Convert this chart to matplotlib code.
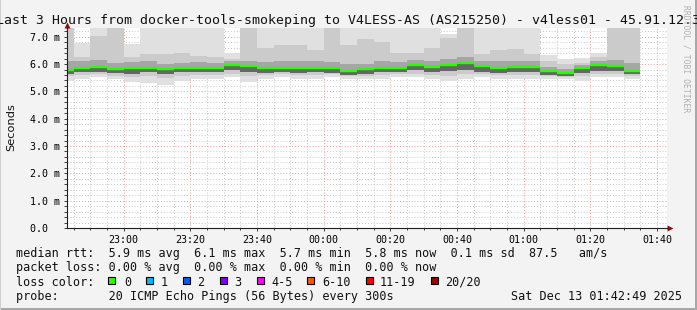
import numpy as np
import pandas as pd
import matplotlib
matplotlib.use('Agg')
import matplotlib.pyplot as plt
import matplotlib.dates as mdates
import matplotlib.ticker as mticker
import matplotlib.transforms as mtransforms
from matplotlib.patches import Rectangle

plt.rcParams['font.family'] = 'DejaVu Sans Mono'

# 5 minute rows, values in ms (axis label says "m" = milli-seconds)
bar_start = pd.date_range('2025-12-12 22:40', periods=35, freq='5min')
median = [5.80, 5.87, 5.90, 5.82, 5.85, 5.87, 5.81, 5.87, 5.87, 5.87, 5.98, 5.93,
          5.86, 5.87, 5.86, 5.87, 5.85, 5.76, 5.81, 5.87, 5.87, 5.97, 5.91, 5.98,
          6.05, 5.92, 5.86, 5.91, 5.91, 5.76, 5.68, 5.84, 5.98, 5.92, 5.76]
smoke_lo = [5.39, 5.45, 5.52, 5.45, 5.33, 5.30, 5.24, 5.39, 5.45, 5.45, 5.52, 5.33,
            5.45, 5.52, 5.45, 5.45, 5.52, 5.45, 5.45, 5.45, 5.52, 5.52, 5.45, 5.39,
            5.45, 5.52, 5.45, 5.45, 5.45, 5.45, 5.45, 5.39, 5.52, 5.52, 5.45]
smoke_hi = [7.60, 6.78, 7.60, 7.60, 6.73, 7.60, 7.60, 7.60, 7.60, 7.60, 6.40, 7.60,
            7.60, 7.60, 7.60, 7.60, 7.60, 7.60, 7.60, 7.60, 7.60, 7.60, 7.60, 7.10,
            7.60, 7.60, 7.60, 7.60, 7.60, 6.34, 6.19, 6.22, 6.39, 7.60, 7.60]
mid_lo = [5.55, 5.60, 5.62, 5.58, 5.52, 5.55, 5.50, 5.58, 5.60, 5.60, 5.64, 5.55,
          5.60, 5.62, 5.60, 5.60, 5.62, 5.55, 5.58, 5.60, 5.62, 5.64, 5.60, 5.58,
          5.62, 5.64, 5.60, 5.60, 5.60, 5.55, 5.52, 5.55, 5.64, 5.64, 5.58]
mid_hi = [7.60, 6.25, 7.04, 7.60, 6.25, 6.37, 6.37, 6.40, 6.30, 6.25, 6.20, 7.60,
          6.60, 6.70, 6.70, 6.50, 7.60, 6.70, 6.93, 6.80, 6.42, 6.42, 6.60, 6.95,
          7.60, 6.37, 6.50, 6.55, 6.37, 6.12, 6.00, 6.03, 6.25, 7.60, 7.60]
dark_lo = [5.64, 5.70, 5.72, 5.66, 5.64, 5.70, 5.64, 5.70, 5.70, 5.70, 5.78, 5.72,
           5.68, 5.70, 5.68, 5.70, 5.68, 5.60, 5.64, 5.70, 5.70, 5.78, 5.72, 5.76,
           5.78, 5.72, 5.68, 5.72, 5.72, 5.60, 5.55, 5.66, 5.76, 5.74, 5.62]
dark_hi = [6.10, 6.12, 6.15, 6.05, 6.08, 6.10, 6.02, 6.05, 6.06, 6.05, 6.12, 6.12,
           6.08, 6.10, 6.10, 6.12, 6.08, 6.00, 6.00, 6.10, 6.08, 6.15, 6.12, 6.20,
           6.25, 6.10, 6.12, 6.12, 6.10, 5.90, 5.82, 5.95, 6.10, 6.15, 6.05]

loss_labels = ['0', '1', '2', '3', '4-5', '6-10', '11-19', '20/20']
loss_colors = ['#26ff00', '#00b8ff', '#0059ff', '#7e00ff', '#ff00ff', '#ff5500', '#ff0000', '#a10000']

title = 'Last 3 Hours from docker-tools-smokeping to V4LESS-AS (AS215250) - v4less01 - 45.91.12.3'
legend_rows = [
    'median rtt:  5.9 ms avg  6.1 ms max  5.7 ms min  5.8 ms now  0.1 ms sd  87.5   am/s',
    'packet loss: 0.00 % avg  0.00 % max  0.00 % min  0.00 % now',
    'loss color:',
    'probe:       20 ICMP Echo Pings (56 Bytes) every 300s',
]
stamp = 'Sat Dec 13 01:42:49 2025'

W, H = 697, 310
fig = plt.figure(figsize=(W / 100, H / 100), dpi=100, facecolor='#f3f3f3')
ax = fig.add_axes([67 / W, (H - 228) / H, 600 / W, 200 / H])
ax.set_facecolor('white')
ax.set_axisbelow(True)

x = mdates.date2num(bar_start.to_pydatetime())
step = 5 / 1440
lo = np.array(smoke_lo)
ax.bar(x, np.array(smoke_hi) - lo, bottom=lo, width=step, align='edge', color='#e0e0e0', lw=0)
ax.bar(x, np.array(mid_hi) - np.array(mid_lo), bottom=mid_lo, width=step, align='edge', color='#cbcbcb', lw=0)
ax.bar(x, np.array(dark_hi) - np.array(dark_lo), bottom=dark_lo, width=step, align='edge', color='#a6a6a6', lw=0)
ax.bar(x, np.array(median) - np.array(dark_lo), bottom=dark_lo, width=step, align='edge', color='#666666', lw=0)
ax.hlines(median, x, x + step, color='#26ff00', lw=1.7)

t0 = pd.Timestamp('2025-12-12 22:43')
ax.set_xlim(mdates.date2num(t0), mdates.date2num(t0 + pd.Timedelta(hours=3)))
ax.set_ylim(0, 7.32)

ax.xaxis.set_major_locator(mdates.MinuteLocator(byminute=[0, 20, 40]))
ax.xaxis.set_minor_locator(mdates.MinuteLocator(byminute=range(0, 60, 5)))
ax.xaxis.set_major_formatter(mdates.DateFormatter('%H:%M'))
ax.yaxis.set_major_locator(mticker.MultipleLocator(1))
ax.yaxis.set_minor_locator(mticker.MultipleLocator(0.2))
ax.yaxis.set_major_formatter(mticker.FuncFormatter(lambda v, p: '0.0  ' if v == 0 else f'{v:.1f} m'))

ax.grid(which='minor', color='#c8c8c8', linestyle=(0, (1, 2)), lw=0.7)
ax.grid(which='major', color='#f09a9a', linestyle=(0, (1, 2)), lw=0.7)

ax.tick_params(axis='both', which='both', direction='out', color='#404040', width=0.7, labelsize=7.2)
ax.tick_params(axis='y', which='both', length=2, pad=3.4)
ax.tick_params(axis='x', which='major', length=2.5, pad=2.2)
ax.tick_params(axis='x', which='minor', length=1.5)
for s in ['top', 'right']:
    ax.spines[s].set_visible(False)
for s in ['left', 'bottom']:
    ax.spines[s].set_color('#202020')
    ax.spines[s].set_linewidth(0.8)

# axis arrows
up = mtransforms.offset_copy(ax.transAxes, fig, x=0, y=3, units='dots')
ax.plot([0], [1], marker='^', ms=4.5, color='#8b1010', mec='none', transform=up, clip_on=False)
right = mtransforms.offset_copy(ax.transAxes, fig, x=3, y=0, units='dots')
ax.plot([1], [0], marker='>', ms=4.5, color='#8b1010', mec='none', transform=right, clip_on=False)

fig.text(0.5, 1 - 24 / H, title, ha='center', va='baseline', fontsize=9.5, color='#111111')
fig.text(11 / W, 1 - 127 / H, 'Seconds', rotation=90, ha='center', va='center',
         fontsize=8.2, family='DejaVu Sans', color='#111111')
fig.text(686 / W, 1 - 5 / H, 'RRDTOOL / TOBI OETIKER', rotation=-90, ha='center', va='top',
         fontsize=5.8, color='#b0b0b0')

baselines = [257, 271.5, 285.5, 300]
for row, yb in zip(legend_rows, baselines):
    fig.text(16 / W, 1 - yb / H, row, ha='left', va='baseline', fontsize=8.5, color='#111111')
fig.text(682 / W, 1 - 300 / H, stamp, ha='right', va='baseline', fontsize=8.5, color='#111111')

sq_x = [108, 145.7, 183, 220, 257, 307, 365.7, 430.7]
lab_x = [124, 161, 197, 234, 271, 322, 380, 445]
for sx, lx, lab, col in zip(sq_x, lab_x, loss_labels, loss_colors):
    fig.add_artist(Rectangle((sx / W, 1 - 284 / H), 7 / W, 7 / H, transform=fig.transFigure,
                             facecolor=col, edgecolor='black', lw=0.8))
    fig.text(lx / W, 1 - 285.5 / H, lab, ha='left', va='baseline', fontsize=8.5, color='#111111')

# frame shading
fig.add_artist(Rectangle((0, 0), 1, 2 / H, transform=fig.transFigure, color='#a8a8a8', lw=0))
fig.add_artist(Rectangle((1 - 2 / W, 0), 2 / W, 1, transform=fig.transFigure, color='#a8a8a8', lw=0))
fig.add_artist(Rectangle((0, 0), 1 / W, 1, transform=fig.transFigure, color='#d0d0d0', lw=0))

fig.savefig('out.png', dpi=100, facecolor=fig.get_facecolor())
